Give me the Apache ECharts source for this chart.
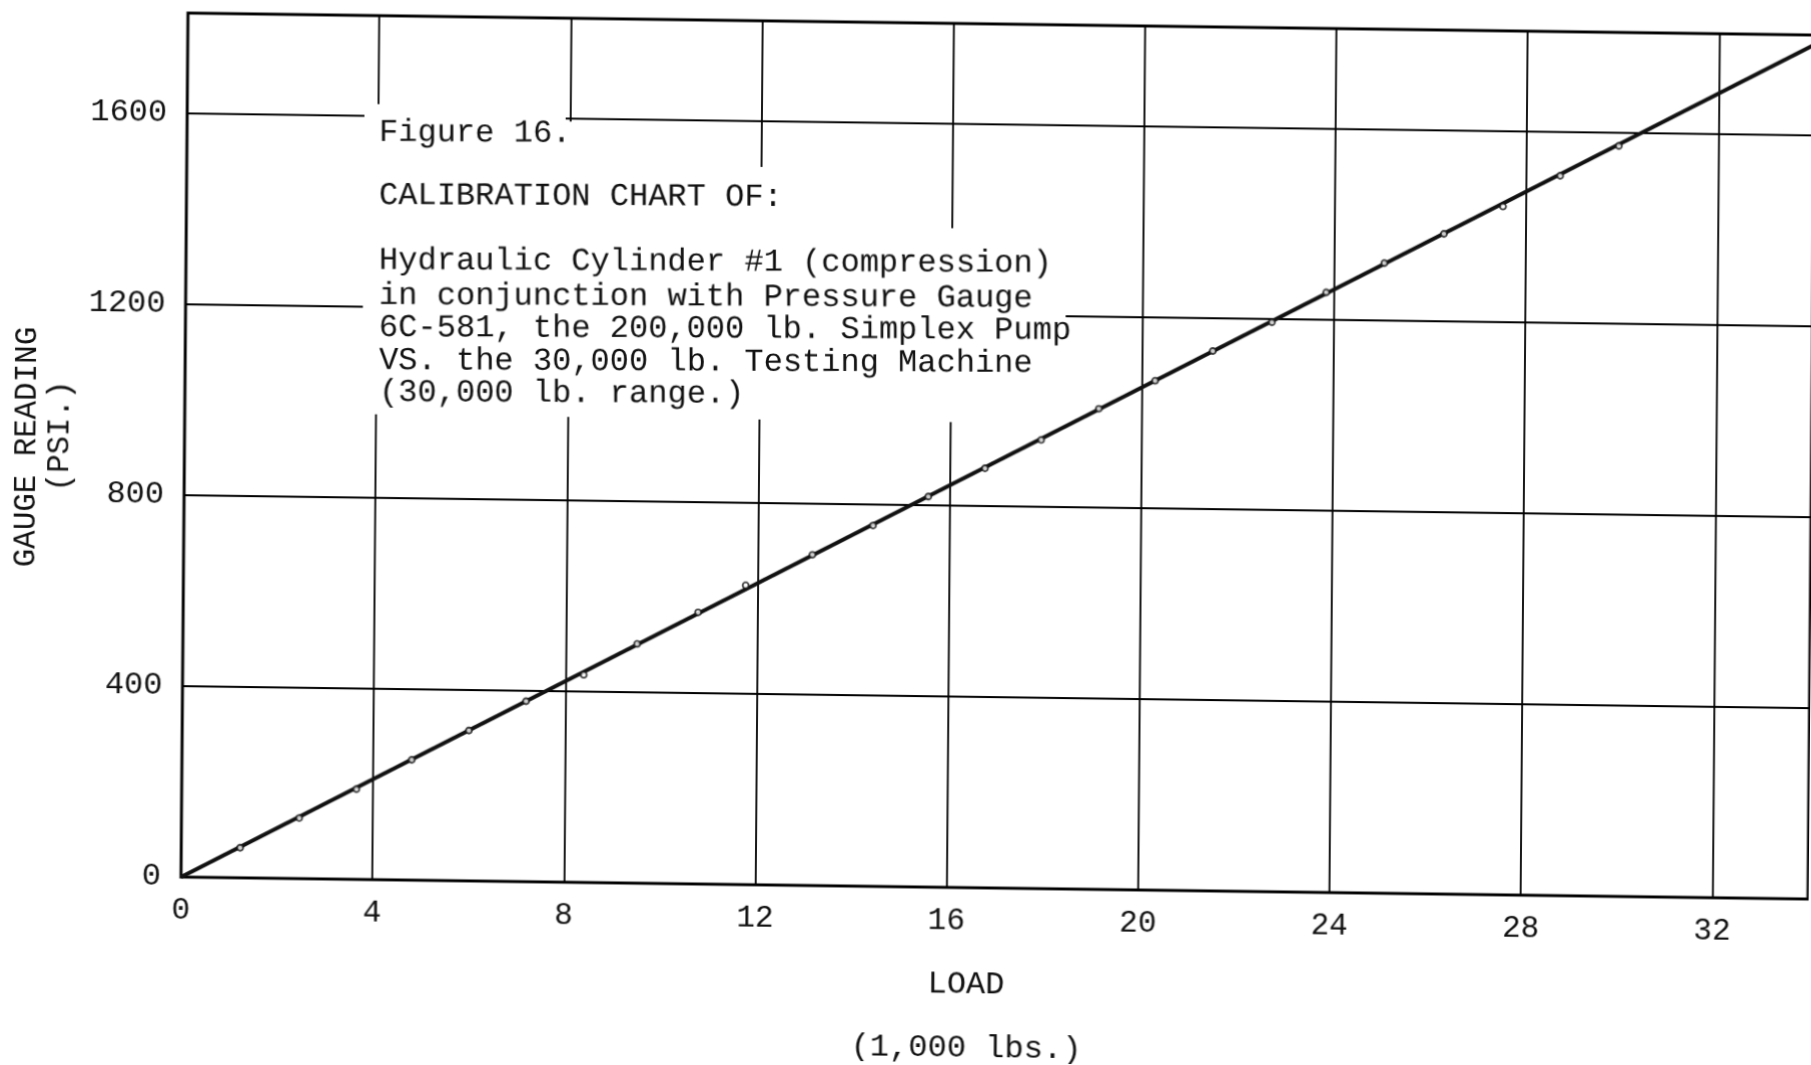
<!DOCTYPE html>
<html>
<head>
<meta charset="utf-8">
<script src="https://cdn.jsdelivr.net/npm/echarts@6/dist/echarts.min.js"></script>
<style>
html,body{margin:0;padding:0;background:#fff;overflow:hidden;}
#chart{width:1811px;height:1065px;}
</style>
</head>
<body>
<div id="chart"></div>
<script>
// ---- data ----
const loadValues = [1.23, 2.46, 3.65, 4.80, 5.99, 7.18, 8.38, 9.49, 10.76, 11.75, 13.14, 14.40, 15.55,
  16.73, 17.90, 19.10, 20.27, 21.47, 22.70, 23.83, 25.04, 26.28, 27.51, 28.70, 29.92];
const gaugeValues = [63, 127, 189, 252, 315, 378, 435, 501, 569, 627, 693, 756, 818,
  879, 940, 1007, 1067, 1131, 1193, 1257, 1320, 1383, 1442, 1508, 1572];
const fitLoad = [0, 34];
const fitGauge = [0, 1790];
const xTickLabels = ['0', '4', '8', '12', '16', '20', '24', '28', '32'];
const yTickLabels = ['0', '400', '800', '1200', '1600'];
const noteLines = [
  'Figure 16.',
  'CALIBRATION CHART OF:',
  'Hydraulic Cylinder #1 (compression)',
  'in conjunction with Pressure Gauge',
  '6C-581, the 200,000 lb. Simplex Pump',
  'VS. the 30,000 lb. Testing Machine',
  '(30,000 lb. range.)'
];
const xTitle = 'LOAD';
const xUnit = '(1,000 lbs.)';
const yTitle = 'GAUGE READING';
const yUnit = '(PSI.)';

// ---- layout / style ----
const INK = '#111111';
const MONO = '"Liberation Mono", "DejaVu Sans Mono", monospace';
// The scanned page is slightly skewed: the chart div gets the same small affine warp,
// and annotation positions measured on the page are mapped back through its inverse.
const MA = 1.0012, MB = 0.01354, MC = -0.00806, MD = 0.99425, ME = 2.94, MF = -9.39;
const chartDiv = document.getElementById('chart');
chartDiv.style.transformOrigin = '0 0';
chartDiv.style.transform = 'matrix(' + [MA, MB, MC, MD, ME, MF].join(',') + ')';
function toChart(X, Y) {
  const det = MA * MD - MB * MC, x = X - ME, y = Y - MF;
  return [(MD * x - MC * y) / det, (-MB * x + MA * y) / det];
}
const pageTilt = Math.atan2(MB, MA);
const noteTilt = 0.25 * Math.PI / 180;   // the typed note is tilted less than the grid
const noteX = 379;
const noteY = [132.5, 195.5, 260.5, 295.5, 327.5, 360.5, 392.5];
const masks = [
  [362, 109, 201, 312],
  [563, 124, 189, 297],
  [752, 167, 192, 254],
  [944, 226, 120, 195]
];

const chart = echarts.init(chartDiv, null, {renderer: 'canvas'});

const graphics = [];
masks.forEach(m => graphics.push({
  type: 'rect', z: 10, silent: true,
  shape: {x: m[0], y: m[1], width: m[2], height: m[3]},
  style: {fill: '#ffffff'}
}));
function addText(t, X, Y, font, align, rotation) {
  const p = toChart(X, Y);
  graphics.push({type: 'text', z: 11, x: p[0], y: p[1], rotation: rotation || 0, silent: true,
    style: {text: t, font: font, fill: INK, align: align, verticalAlign: 'middle'}});
}
noteLines.forEach((t, i) => addText(t, noteX, noteY[i], '32px ' + MONO, 'left', pageTilt - noteTilt));
addText(xTitle, 966, 985, '32px ' + MONO, 'center');
addText(xUnit, 966, 1048, '32px ' + MONO, 'center');
addText(yTitle, 27, 447, '31px ' + MONO, 'center', Math.PI / 2);
addText(yUnit, 60, 436, '31px ' + MONO, 'center', Math.PI / 2);

function labelFrom(list) {
  return function (v) {
    const s = String(Math.round(v));
    return list.indexOf(s) >= 0 ? s : '';
  };
}

const option = {
  backgroundColor: '#ffffff',
  animation: false,
  grid: {
    left: 185, right: 1, top: 20, bottom: 176,
    show: true, borderColor: INK, borderWidth: 3,
    backgroundColor: 'transparent',
    containLabel: false, outerBoundsMode: 'none'
  },
  xAxis: {
    type: 'value', min: 0, max: 34, interval: 4,
    axisLine: {show: false}, axisTick: {show: false},
    splitLine: {show: true, lineStyle: {color: '#000', width: 1.8}},
    axisLabel: {
      margin: 18, color: INK, fontFamily: MONO, fontSize: 31,
      showMaxLabel: false, hideOverlap: false,
      formatter: labelFrom(xTickLabels)
    }
  },
  yAxis: {
    type: 'value', min: 0, max: 1810, interval: 400,
    axisLine: {show: false}, axisTick: {show: false},
    splitLine: {show: true, lineStyle: {color: '#000', width: 1.8}},
    axisLabel: {
      margin: 20, color: INK, fontFamily: MONO, fontSize: 32,
      showMaxLabel: false, hideOverlap: false,
      formatter: labelFrom(yTickLabels)
    }
  },
  graphic: graphics,
  series: [
    {
      type: 'line', z: 3,
      data: fitLoad.map((x, i) => [x, fitGauge[i]]),
      showSymbol: false, symbol: 'none',
      lineStyle: {color: INK, width: 4},
      silent: true
    },
    {
      type: 'scatter', z: 4,
      data: loadValues.map((x, i) => [x, gaugeValues[i]]),
      symbol: 'circle', symbolSize: 6,
      itemStyle: {color: '#ffffff', borderColor: INK, borderWidth: 1.8}
    }
  ]
};
chart.setOption(option);
</script>
</body>
</html>
